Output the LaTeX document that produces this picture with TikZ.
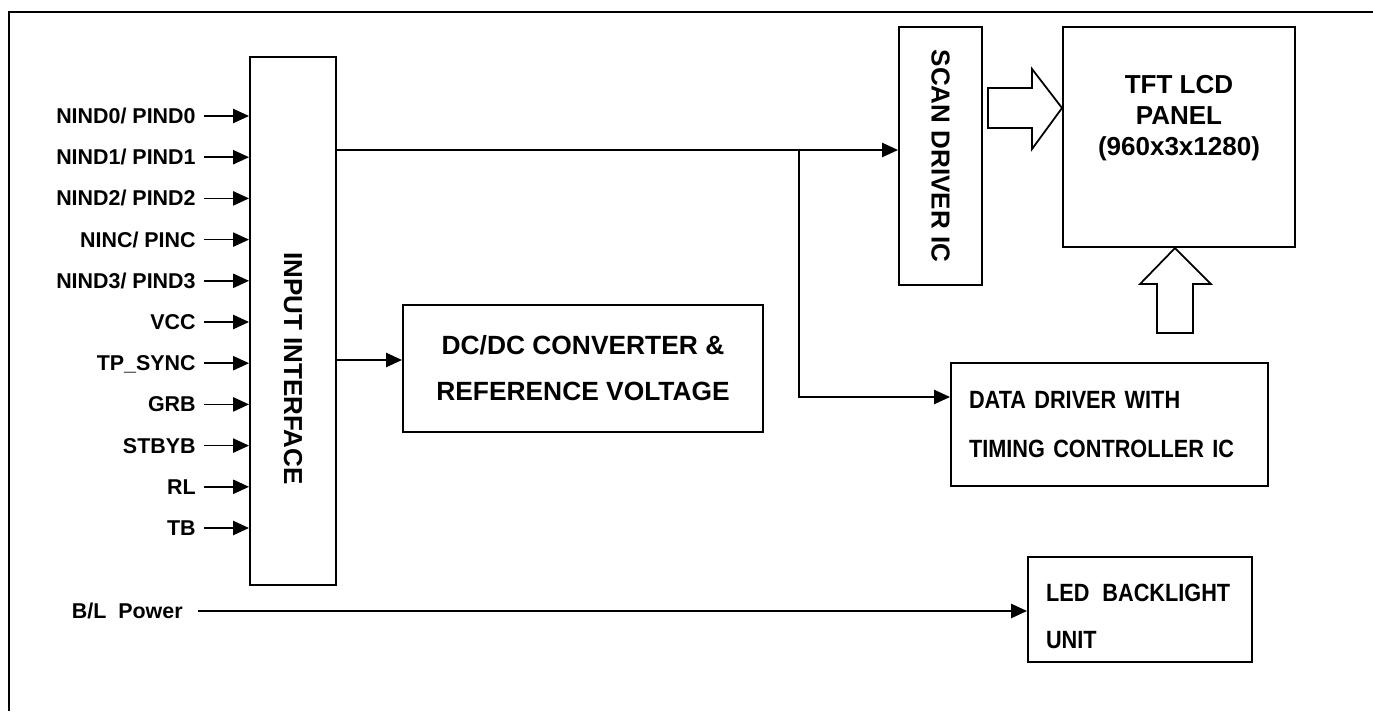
\documentclass[tikz,border=0pt]{standalone}
\usepackage{fontspec}
\setmainfont{Liberation Sans}
\newfontfamily\narrowfont[FakeStretch=0.87]{Liberation Sans}
\usepackage{graphicx}
\usetikzlibrary{arrows.meta}
\definecolor{ink}{RGB}{0,0,0}
\newcommand\pinfont{\fontsize{12.2}{14}\selectfont\bfseries}
\newcommand\boxfont{\fontsize{14.8}{17}\selectfont\bfseries}
\tikzset{
  blk/.style  ={rectangle, draw=ink, line width=1.1pt, inner sep=0pt,
                align=center, font=\boxfont},
  txtblk/.style={blk, align=left, inner xsep=3.6mm,
                font=\narrowfont\fontsize{14.2}{9.8mm}\selectfont\bfseries},
  pin/.style  ={anchor=east, inner ysep=0pt, inner xsep=1.6mm,
                text height=3mm, text depth=0pt, font=\pinfont},
  fl/.style   ={-{Triangle[length=9pt,width=8pt]}, line width=1pt, draw=ink},
  hol/.style  ={draw=ink, line width=1pt, fill=white, line join=miter},
}

\begin{document}
\begin{tikzpicture}[x=0.2mm, y=-0.2mm]
\useasboundingbox (0,0) rectangle (1373,711);
\draw[ink, line width=0.8pt] (9,711) -- (9,12) -- (1373,12);

% blocks
\node[blk, minimum width=17.2mm, minimum height=105.6mm, text height=19mm] (inif) at (293,321)
   {\rotatebox{-90}{INPUT INTERFACE}};
\node[blk, minimum width=16.6mm, minimum height=51.6mm] (scan) at (940.5,156)
   {\rotatebox{-90}{SCAN DRIVER IC}};
\node[blk, minimum width=46.4mm, minimum height=44mm, inner ysep=9.6mm,
      text depth=8.8mm, font=\fontsize{14.8}{6.2mm}\selectfont\bfseries] (panel) at (1179,137)
   {TFT LCD\\PANEL\\(960x3x1280)};
\node[blk, minimum width=72mm, minimum height=25.4mm,
      font=\fontsize{15}{9.2mm}\selectfont\bfseries] (dcdc) at (583,368.5)
   {DC/DC CONVERTER \&\\REFERENCE VOLTAGE};
\node[txtblk, text width=56.2mm, minimum height=24.6mm] (data) at (1109.5,424.5)
   {DATA DRIVER WITH\\TIMING CONTROLLER IC};
\node[txtblk, text width=37.6mm, minimum height=21mm, text height=6.4mm,
      font=\narrowfont\fontsize{14.2}{9.4mm}\selectfont\bfseries] (led) at (1140,609.5)
   {LED\hspace{2.6mm}BACKLIGHT\\UNIT};

% input pins
\foreach \t [count=\i] in {{NIND0/ PIND0}, {NIND1/ PIND1}, {NIND2/ PIND2},
    {NINC/ PINC}, {NIND3/ PIND3}, VCC, TP\_SYNC, GRB, STBYB, RL, TB} {
  \node[pin] (p\i) at (204,{74.8+41.2*\i}) {\t};
  \draw[fl] (p\i.east) -- (inif.west |- p\i.east);
}
\node[pin, inner xsep=3mm] (bl) at (198,611) {B/L\ \ Power};
\draw[fl] (bl.east) -- (led.west |- bl.east);

% signal bus
\coordinate (scin) at ([yshift=1.2mm]scan.west);
\coordinate (dcin) at ([yshift=1.7mm]dcdc.west);
\coordinate (ddin) at ([yshift=5.5mm]data.west);
\coordinate (tap) at (799,150);
\draw[fl] (inif.east |- scin) -- (scin);
\draw[fl] (tap) |- (ddin);
\draw[fl] (inif.east |- dcin) -- (dcin);

% hollow arrows into the panel
\draw[hol] (panel.west) ++(0,-29) -- +(-30,41) -- +(-30,20) -- +(-74,20)
   -- +(-74,-20) -- +(-30,-20) -- +(-30,-39) -- cycle;
\draw[hol] (panel.south) ++(-4,0) -- +(36,36) -- +(18,36) -- +(18,85)
   -- +(-18,85) -- +(-18,36) -- +(-35,36) -- cycle;
\end{tikzpicture}
\end{document}
